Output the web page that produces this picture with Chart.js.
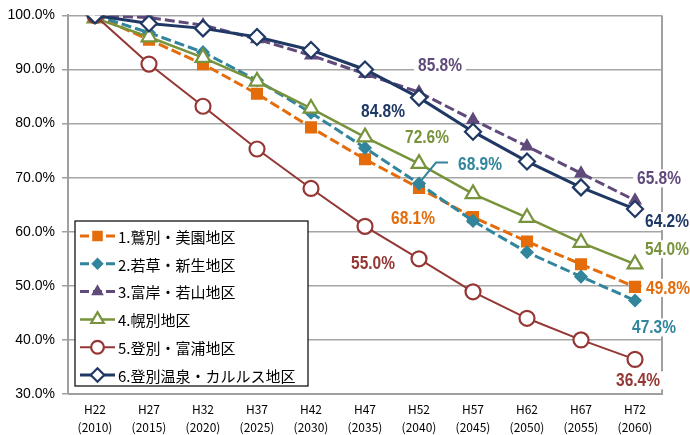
<!DOCTYPE html>
<html>
<head>
<meta charset="utf-8">
<script src="https://cdn.jsdelivr.net/npm/chart.js@4/dist/chart.umd.min.js"></script>
<style>
  html, body { margin: 0; padding: 0; background: #fff; }
  #wrap { width: 690px; height: 435px; position: relative; }
</style>
</head>
<body>
<div id="wrap"><canvas id="chart"></canvas></div>
<script>
// categories (year labels, two lines)
const eras = ['H22', 'H27', 'H32', 'H37', 'H42', 'H47', 'H52', 'H57', 'H62', 'H67', 'H72'];
const years = ['(2010)', '(2015)', '(2020)', '(2025)', '(2030)', '(2035)', '(2040)', '(2045)', '(2050)', '(2055)', '(2060)'];

// series values (% of 2010 population)
const washibetsu = [100, 95.5, 91.0, 85.5, 79.3, 73.4, 68.1, 62.7, 58.2, 54.0, 49.8];
const wakakusa   = [100, 96.8, 93.2, 88.0, 82.0, 75.5, 68.9, 62.0, 56.2, 51.7, 47.3];
const tomikishi  = [100, 99.6, 98.2, 95.6, 92.6, 89.2, 85.8, 80.7, 75.8, 70.8, 65.8];
const horobetsu  = [99.5, 96.0, 92.2, 87.8, 82.8, 77.5, 72.6, 67.0, 62.6, 58.0, 54.0];
const tomiura    = [100, 91.0, 83.2, 75.3, 68.0, 61.0, 55.0, 48.9, 44.0, 40.0, 36.4];
const onsen      = [100, 98.5, 97.6, 96.0, 93.6, 90.0, 84.8, 78.5, 73.0, 68.2, 64.2];

const seriesNames = ['1.鷲別・美園地区', '2.若草・新生地区', '3.富岸・若山地区', '4.幌別地区', '5.登別・富浦地区', '6.登別温泉・カルルス地区'];

// y axis ticks
const yMin = 30, yMax = 100, yStep = 10;

// condensed bold look for the value labels
const labelFont = 'bold 18px "Liberation Sans", Arial, sans-serif';
const labelSqueeze = 0.86;

// data labels: dataset index, point index, offset from the point
const dataLabels = [
  { ds: 2, i: 6, dx: 21, dy: -27 },
  { ds: 5, i: 6, dx: -36, dy: 13 },
  { ds: 3, i: 6, dx: 8, dy: -27 },
  { ds: 1, i: 6, dx: 61, dy: -20, leader: true },
  { ds: 0, i: 6, dx: -6, dy: 30 },
  { ds: 4, i: 6, dx: -46, dy: 4 },
  { ds: 2, i: 10, dx: 24, dy: -22 },
  { ds: 5, i: 10, dx: 32, dy: 12 },
  { ds: 3, i: 10, dx: 32, dy: -15 },
  { ds: 0, i: 10, dx: 33, dy: 1 },
  { ds: 1, i: 10, dx: 19, dy: 27 },
  { ds: 4, i: 10, dx: 3, dy: 21 }
];

const styles = [
  { color: '#E46C0A', dash: [10, 4], style: 'rect', r: 7, fill: true, w: 3, order: 6 },
  { color: '#31859C', dash: [10, 4], style: 'rectRot', r: 5.5, fill: true, w: 3, order: 5 },
  { color: '#604A7B', dash: [10, 4], style: 'triangle', r: 6, fill: true, w: 3, order: 4 },
  { color: '#77933C', dash: [], style: 'triangle', r: 8.5, fill: false, w: 2.5, order: 3 },
  { color: '#953735', dash: [], style: 'circle', r: 7.5, fill: false, w: 2, order: 2 },
  { color: '#1F3864', dash: [], style: 'rectRot', r: 8, fill: false, w: 3, order: 1 }
];

const allValues = [washibetsu, wakakusa, tomikishi, horobetsu, tomiura, onsen];

const datasets = allValues.map((vals, k) => {
  const s = styles[k];
  return {
    label: seriesNames[k],
    data: vals,
    borderColor: s.color,
    backgroundColor: s.color,
    borderWidth: s.w,
    borderDash: s.dash,
    pointStyle: s.style,
    pointRadius: s.r,
    pointHoverRadius: s.r,
    pointBorderWidth: 2.2,
    pointBorderColor: s.color,
    pointBackgroundColor: s.fill ? s.color : '#ffffff',
    order: s.order,
    tension: 0
  };
});

function drawMarker(ctx, s, x, y) {
  ctx.save();
  ctx.setLineDash([]);
  ctx.lineWidth = 2.2;
  ctx.strokeStyle = s.color;
  ctx.fillStyle = s.fill ? s.color : '#ffffff';
  ctx.beginPath();
  const r = s.r * 0.85;
  if (s.style === 'rect') {
    const h = r * 0.7;
    ctx.rect(x - h, y - h, h * 2, h * 2);
  } else if (s.style === 'rectRot') {
    ctx.moveTo(x - r, y); ctx.lineTo(x, y - r); ctx.lineTo(x + r, y); ctx.lineTo(x, y + r); ctx.closePath();
  } else if (s.style === 'triangle') {
    ctx.moveTo(x, y - r); ctx.lineTo(x + r * 0.87, y + r * 0.5); ctx.lineTo(x - r * 0.87, y + r * 0.5); ctx.closePath();
  } else {
    ctx.arc(x, y, r, 0, Math.PI * 2);
  }
  ctx.fill();
  ctx.stroke();
  ctx.restore();
}

const framePlugin = {
  id: 'frame',
  beforeDatasetsDraw(chart) {
    const a = chart.chartArea, ctx = chart.ctx;
    ctx.save();
    ctx.strokeStyle = '#A0A0A0';
    ctx.lineWidth = 2;
    ctx.beginPath();
    ctx.moveTo(a.right, a.top);
    ctx.lineTo(a.right, a.bottom);
    ctx.lineTo(a.left, a.bottom);
    ctx.stroke();
    ctx.restore();
  }
};

const legendPlugin = {
  id: 'boxLegend',
  afterDatasetsDraw(chart) {
    const ctx = chart.ctx;
    const bx = 75, by = 221, bw = 233, bh = 165;
    ctx.save();
    ctx.fillStyle = '#ffffff';
    ctx.fillRect(bx, by, bw, bh);
    ctx.strokeStyle = '#000000';
    ctx.lineWidth = 1.2;
    ctx.strokeRect(bx, by, bw, bh);
    ctx.font = '15px "Noto Sans CJK JP", sans-serif';
    ctx.textBaseline = 'middle';
    ctx.textAlign = 'left';
    seriesNames.forEach((name, k) => {
      const s = styles[k];
      const y = by + 15 + k * 27.8;
      ctx.save();
      ctx.strokeStyle = s.color;
      ctx.lineWidth = s.w;
      ctx.setLineDash(s.dash.length ? [9, 4] : []);
      ctx.beginPath();
      ctx.moveTo(80, y);
      ctx.lineTo(115, y);
      ctx.stroke();
      ctx.restore();
      drawMarker(ctx, s, 97.5, y);
      ctx.fillStyle = '#000000';
      ctx.fillText(name, 118, y + 1);
    });
    ctx.restore();
  }
};

const labelPlugin = {
  id: 'valueLabels',
  afterDatasetsDraw(chart) {
    const ctx = chart.ctx;
    ctx.save();
    ctx.font = labelFont;
    ctx.textAlign = 'center';
    ctx.textBaseline = 'middle';
    dataLabels.forEach(l => {
      const pt = chart.getDatasetMeta(l.ds).data[l.i];
      const val = allValues[l.ds][l.i];
      const text = val.toFixed(1) + '%';
      const cx = pt.x + l.dx, cy = pt.y + l.dy;
      const tw = ctx.measureText(text).width * labelSqueeze;
      if (l.leader) {
        // leader line from the point up to the label
        ctx.strokeStyle = styles[l.ds].color;
        ctx.lineWidth = 2;
        ctx.beginPath();
        ctx.moveTo(pt.x + 3, pt.y - 4);
        ctx.lineTo(pt.x + 17, pt.y - 21);
        ctx.lineTo(pt.x + 29, pt.y - 21);
        ctx.stroke();
      }
      ctx.fillStyle = '#ffffff';
      ctx.fillRect(cx - tw / 2 - 4, cy - 9, tw + 8, 18);
      ctx.save();
      ctx.translate(cx, cy + 1);
      ctx.scale(labelSqueeze, 1);
      ctx.fillStyle = styles[l.ds].color;
      ctx.fillText(text, 0, 0);
      ctx.restore();
    });
    ctx.restore();
  }
};

new Chart(document.getElementById('chart'), {
  type: 'line',
  data: {
    labels: eras.map((e, i) => [e, years[i]]),
    datasets: datasets
  },
  options: {
    responsive: true,
    maintainAspectRatio: false,
    animation: false,
    layout: { padding: { top: 13, right: 28, left: 0, bottom: 0 } },
    plugins: {
      legend: { display: false },
      tooltip: { enabled: false }
    },
    scales: {
      x: {
        offset: true,
        grid: { display: false, drawTicks: false },
        border: { display: false },
        ticks: {
          color: '#000',
          font: { family: '"Noto Sans CJK JP", sans-serif', size: 12, lineHeight: 1.5 },
          padding: 6,
          maxRotation: 0,
          autoSkip: false
        },
        afterFit(scale) { scale.height = 41; }
      },
      y: {
        min: yMin,
        max: yMax,
        grid: { color: '#A6A6A6', lineWidth: 1.5, tickLength: 6, tickColor: '#A0A0A0' },
        border: { display: true, color: '#A0A0A0', width: 2 },
        ticks: {
          stepSize: yStep,
          color: '#000',
          padding: 7,
          font: { family: '"Liberation Sans", Arial, sans-serif', size: 14 },
          callback: v => v.toFixed(1) + '%'
        },
        afterFit(scale) { scale.width = 68; }
      }
    }
  },
  plugins: [framePlugin, legendPlugin, labelPlugin]
});
</script>
</body>
</html>
